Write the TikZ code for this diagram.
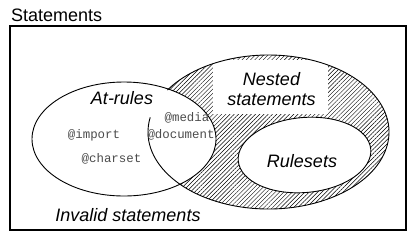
\documentclass[tikz,border=0pt]{standalone}
\usepackage{fontspec}
\setmainfont{Liberation Sans}
\setmonofont{Liberation Mono}
\usetikzlibrary{shapes.geometric,patterns.meta}
\begin{document}
\begin{tikzpicture}[x=1pt,y=-1pt,
  venn/.style={ellipse,inner sep=0pt,outer sep=0pt},
  outline/.style={line width=0.9pt},
  lbl/.style={font=\fontsize{18}{20}\selectfont\itshape,inner sep=0pt,anchor=base},
  code/.style={font=\fontsize{12.4}{14}\selectfont\ttfamily,text=black!70,inner sep=0pt,anchor=base},
  hatch/.style={pattern={Lines[angle=45,distance=3pt,line width=0.45pt]}}]
\useasboundingbox (0,0) rectangle (417,234);
\node[draw,line width=1.1pt,minimum width=396pt,minimum height=204pt,anchor=north west,inner sep=0pt,outer sep=0pt] (frame) at (10,26) {};
\node[anchor=base west,inner sep=0pt,font=\fontsize{18}{20}\selectfont] (title) at (11,21) {Statements};
% filled regions
\node[venn,hatch,minimum width=241pt,minimum height=154pt] (nested) at (268.5,132) {};
\node[venn,fill=white,draw,outline,minimum width=184pt,minimum height=114pt] (atrules) at (124,139) {};
\node[venn,fill=white,draw,outline,rotate=5,minimum width=133pt,minimum height=75pt] (rulesets) at (304.5,155) {};
\node[fill=white,minimum width=115pt,minimum height=54pt,inner sep=0pt,outer sep=0pt] (nbox) at (270.5,87) {};
% outline of the nested-statements ellipse (with the small gap)
\draw[outline] (nested.center) ++(169:120.5pt and 77pt)
  arc[start angle=169,end angle=507,x radius=120.5pt,y radius=77pt];
% labels
\node[lbl] (nestedA) at (271.5,85) {Nested};
\node[lbl] (nestedB) at (271.5,105) {statements};
\node[lbl] (atlbl) at (122,104) {At-rules};
\node[lbl] (rslbl) at (302,167) {Rulesets};
\node[lbl] (invlbl) at (128,221) {Invalid statements};
\node[code] (media) at (187,121) {@media};
\node[code] (import) at (94,138) {@import};
\node[code] (document) at (181,138) {@document};
\node[code] (charset) at (111.5,162) {@charset};
\end{tikzpicture}
\end{document}
